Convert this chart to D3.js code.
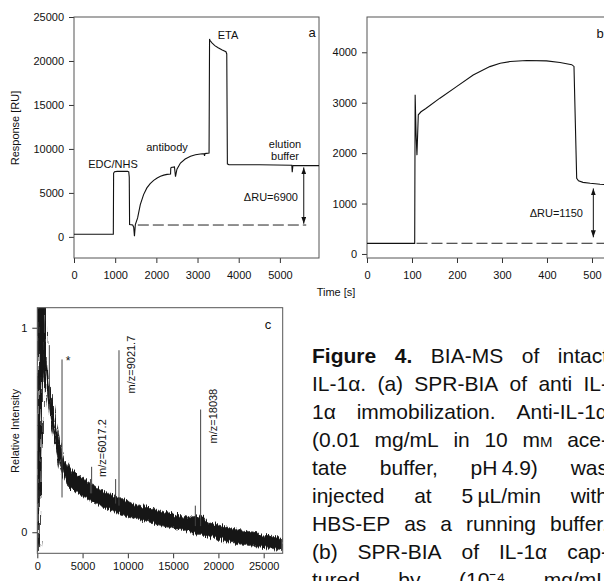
<!DOCTYPE html>
<html>
<head>
<meta charset="utf-8">
<script src="https://cdn.jsdelivr.net/npm/d3@7"></script>
<style>
  body { margin: 0; background: #fff; }
  svg { display: block; font-family: "Liberation Sans", Arial, Helvetica, sans-serif; }
</style>
</head>
<body>
<svg id="fig" width="604" height="581"></svg>
<script>
// ---- panel a: immobilization sensorgram
const aTime = [0, 955, 962, 985, 1050, 1300, 1330, 1342, 1350, 1425, 1450, 1468, 1490, 1545, 1610, 1690, 1770, 1850, 1935, 2020, 2100, 2180, 2260, 2345, 2350, 2360, 2440, 2450, 2465, 2500, 2585, 2700, 2830, 2950, 3070, 3160, 3170, 3180, 3280, 3292, 3300, 3350, 3420, 3500, 3600, 3690, 3710, 3725, 3760, 4500, 5290, 5300, 5315, 5330, 5950];
const aResp = [300, 300, 7250, 7400, 7450, 7450, 7380, 6800, 1400, 1350, 1100, 80, 1400, 2160, 3670, 4810, 5570, 6050, 6430, 6700, 6890, 7020, 7110, 7150, 7800, 7900, 7950, 7500, 6850, 7700, 8400, 8850, 9160, 9330, 9430, 9460, 9200, 9470, 9540, 22500, 22350, 22050, 21750, 21500, 21250, 21050, 20800, 8300, 8220, 8200, 8150, 7350, 8100, 8120, 8100];
const aXTicks = [0, 1000, 2000, 3000, 4000, 5000];
const aYTicks = [0, 5000, 10000, 15000, 20000, 25000];
const aBase = 1350, aBaseFrom = 1550, aBaseTo = 5640;
const aArrow = { t: 5580, from: 1500, to: 7900 };

// ---- panel b: capture sensorgram
const bTime = [0, 106, 107, 109, 111, 114, 120, 130, 162, 199, 236, 273, 296, 318, 355, 399, 429, 455, 460, 463, 466, 470, 480, 496, 518, 548];
const bResp = [210, 210, 3160, 2400, 1960, 2760, 2820, 2880, 3090, 3320, 3550, 3716, 3783, 3816, 3836, 3829, 3796, 3755, 3720, 2600, 1500, 1450, 1420, 1402, 1383, 1370];
const bXTicks = [0, 100, 200, 300, 400, 500];
const bYTicks = [0, 1000, 2000, 3000, 4000];
const bBase = 212, bBaseFrom = 110, bBaseTo = 548;
const bArrow = { t: 503, from: 330, to: 1300 };

// ---- panel c: MALDI spectrum (noise band edges + peaks)
const specMz = [0, 100, 200, 350, 500, 650, 800, 1000, 1200, 1400, 1600, 1800, 2000, 2250, 2500, 2750, 3000, 3500, 4000, 4500, 5000, 5500, 6000, 6500, 7000, 7500, 8000, 8500, 9000, 9500, 10000, 11000, 12000, 13000, 14000, 15000, 16000, 17000, 17600, 18200, 19000, 20000, 21000, 22000, 23000, 24000, 25000, 26000, 27100];
const specHi = [-0.02, 1.2, 1.2, 1.2, 1.2, 1.2, 1.2, 0.84, 0.76, 0.70, 0.65, 0.59, 0.54, 0.49, 0.44, 0.39, 0.36, 0.32, 0.30, 0.28, 0.265, 0.25, 0.235, 0.22, 0.21, 0.20, 0.19, 0.18, 0.17, 0.16, 0.15, 0.135, 0.125, 0.11, 0.10, 0.09, 0.08, 0.07, 0.075, 0.08, 0.045, 0.035, 0.025, 0.015, 0.005, 0.0, -0.015, -0.02, -0.025];
const specLo = [-0.09, -0.09, -0.05, 0.3, 0.55, 0.75, 0.80, 0.68, 0.62, 0.56, 0.51, 0.47, 0.42, 0.37, 0.32, 0.29, 0.26, 0.22, 0.20, 0.19, 0.18, 0.165, 0.15, 0.14, 0.13, 0.12, 0.11, 0.10, 0.09, 0.085, 0.075, 0.065, 0.055, 0.04, 0.03, 0.02, 0.01, 0.0, -0.01, -0.01, -0.025, -0.035, -0.045, -0.055, -0.06, -0.07, -0.075, -0.08, -0.085];
const peakMz   = [1330, 2730, 5870, 6000, 8650, 9022, 17450, 18038];
const peakTop  = [0.915, 0.845, 0.26, 0.32, 0.26, 0.89, 0.13, 0.6];
const peakBase = [0.65, 0.17, 0.19, 0.19, 0.14, 0.13, 0.03, 0.03];
const cXTicks = [0, 5000, 10000, 15000, 20000, 25000];
const cYTicks = [0, 1];

// ---- caption
const captionLines = [
  "Figure 4. BIA-MS of intact",
  "IL-1α. (a) SPR-BIA of anti IL-",
  "1α immobilization. Anti-IL-1α",
  "(0.01 mg/mL in 10 mM ace-",
  "tate buffer, pH\u20094.9) was",
  "injected at 5\u2009µL/min with",
  "HBS-EP as a running buffer.",
  "(b) SPR-BIA of IL-1α cap-",
  "tured by (10⁻⁴ mg/mL"
];

const svg = d3.select("#fig");
const defs = svg.append("defs");

defs.append("marker")
  .attr("id", "ah")
  .attr("viewBox", "0 0 10 10")
  .attr("refX", 10).attr("refY", 5)
  .attr("markerWidth", 7).attr("markerHeight", 5)
  .attr("markerUnits", "userSpaceOnUse")
  .attr("preserveAspectRatio", "none")
  .attr("orient", "auto-start-reverse")
  .append("path").attr("d", "M0,0L10,5L0,10Z").attr("fill", "#111");

const fuzz = defs.append("filter").attr("id", "fuzz")
  .attr("x", "-5%").attr("y", "-10%").attr("width", "110%").attr("height", "120%");
fuzz.append("feTurbulence").attr("type", "fractalNoise").attr("baseFrequency", "1.1 0.04")
  .attr("numOctaves", 2).attr("seed", 4).attr("result", "n");
fuzz.append("feDisplacementMap").attr("in", "SourceGraphic").attr("in2", "n")
  .attr("scale", 9).attr("xChannelSelector", "A").attr("yChannelSelector", "G");

function drawAxes(g, x, y, xt, yt, xPad) {
  const [x0, x1] = x.range();
  const [yb, ytop] = y.range();
  const ax = g.append("g").attr("transform", `translate(0,${yb})`)
    .call(d3.axisBottom(x).tickValues(xt).tickFormat(d3.format("d")).tickSize(5).tickPadding(xPad));
  const ay = g.append("g").attr("transform", `translate(${x0},0)`)
    .call(d3.axisLeft(y).tickValues(yt).tickFormat(d3.format("d")).tickSize(5).tickPadding(5));
  [ax, ay].forEach(s => {
    s.attr("font-size", 11).attr("font-family", null);
    s.select(".domain").remove();
    s.selectAll(".tick line").attr("stroke", "#333");
    s.selectAll(".tick text").attr("fill", "#111");
  });
  g.append("rect").attr("x", x0).attr("y", ytop)
    .attr("width", x1 - x0).attr("height", yb - ytop)
    .attr("fill", "none").attr("stroke", "#555");
}

function clip(id, x, y) {
  const [x0, x1] = x.range();
  const [yb, ytop] = y.range();
  defs.append("clipPath").attr("id", id).append("rect")
    .attr("x", x0).attr("y", ytop).attr("width", x1 - x0).attr("height", yb - ytop);
}

function label(g, x, y, txt, size, anchor) {
  return g.append("text").attr("x", x).attr("y", y)
    .attr("font-size", size || 11).attr("text-anchor", anchor || "middle")
    .attr("fill", "#111").text(txt);
}

// ======== panel a
const xa = d3.scaleLinear().domain([0, 5950]).range([74, 319]);
const ya = d3.scaleLinear().domain([-2400, 25000]).range([258, 17]);
const ga = svg.append("g");
clip("clipA", xa, ya);
drawAxes(ga, xa, ya, aXTicks, aYTicks, 8.5);

ga.append("path")
  .datum(aTime.map((t, i) => [t, aResp[i]]))
  .attr("clip-path", "url(#clipA)")
  .attr("d", d3.line().x(d => xa(d[0])).y(d => ya(d[1])))
  .attr("fill", "none").attr("stroke", "#111").attr("stroke-width", 1.1);

ga.append("line")
  .attr("x1", xa(aBaseFrom)).attr("x2", xa(aBaseTo))
  .attr("y1", ya(aBase)).attr("y2", ya(aBase))
  .attr("stroke", "#222").attr("stroke-dasharray", "11,4");

ga.append("line")
  .attr("x1", xa(aArrow.t)).attr("x2", xa(aArrow.t))
  .attr("y1", ya(aArrow.from)).attr("y2", ya(aArrow.to))
  .attr("stroke", "#111").attr("stroke-width", 1)
  .attr("marker-start", "url(#ah)").attr("marker-end", "url(#ah)");

label(ga, 113, 168, "EDC/NHS");
label(ga, 167, 151, "antibody");
label(ga, 228, 38.5, "ETA");
label(ga, 285, 148, "elution");
label(ga, 285, 159.5, "buffer");
label(ga, 298, 200.5, "ΔRU=6900", 11, "end");
label(ga, 312, 37, "a", 13);
ga.append("text")
  .attr("transform", "translate(19,128) rotate(-90)")
  .attr("text-anchor", "middle").attr("font-size", 11).attr("fill", "#111")
  .text("Response [RU]");

// ======== panel b
const xb = d3.scaleLinear().domain([0, 546.7]).range([367, 613]);
const yb = d3.scaleLinear().domain([-80, 4700]).range([258, 17]);
const gb = svg.append("g");
clip("clipB", xb, yb);
drawAxes(gb, xb, yb, bXTicks, bYTicks, 8.5);

gb.append("path")
  .datum(bTime.map((t, i) => [t, bResp[i]]))
  .attr("clip-path", "url(#clipB)")
  .attr("d", d3.line().x(d => xb(d[0])).y(d => yb(d[1])))
  .attr("fill", "none").attr("stroke", "#111").attr("stroke-width", 1.1);

gb.append("line")
  .attr("x1", xb(bBaseFrom)).attr("x2", xb(bBaseTo))
  .attr("y1", yb(bBase)).attr("y2", yb(bBase))
  .attr("stroke", "#222").attr("stroke-dasharray", "11,4");

gb.append("line")
  .attr("x1", xb(bArrow.t)).attr("x2", xb(bArrow.t))
  .attr("y1", yb(bArrow.from)).attr("y2", yb(bArrow.to))
  .attr("stroke", "#111").attr("stroke-width", 1)
  .attr("marker-start", "url(#ah)").attr("marker-end", "url(#ah)");

label(gb, 583, 217, "ΔRU=1150", 11, "end");
label(gb, 600, 37.5, "b", 13);
label(gb, 336, 296, "Time [s]");

// ======== panel c
const xc = d3.scaleLinear().domain([0, 27100]).range([37.3, 282.7]);
const yc = d3.scaleLinear().domain([-0.103, 1.098]).range([553.3, 307.7]);
const gc = svg.append("g");
clip("clipC", xc, yc);

const band = d3.area()
  .x(d => xc(d[0])).y0(d => yc(d[1])).y1(d => yc(d[2]));
gc.append("g").attr("clip-path", "url(#clipC)")
  .append("path")
  .datum(specMz.map((m, i) => [m, specLo[i], specHi[i]]))
  .attr("d", band)
  .attr("fill", "#161616").attr("stroke", "#333").attr("stroke-width", 0.8)
  .attr("filter", "url(#fuzz)");

gc.append("g").attr("clip-path", "url(#clipC)")
  .selectAll("line.peak")
  .data(peakMz.map((m, i) => ({ m, top: peakTop[i], base: peakBase[i] })))
  .join("line").attr("class", "peak")
  .attr("x1", d => xc(d.m)).attr("x2", d => xc(d.m))
  .attr("y1", d => yc(d.base)).attr("y2", d => yc(d.top))
  .attr("stroke", "#444").attr("stroke-width", 1);

drawAxes(gc, xc, yc, cXTicks, cYTicks, 3.5);

label(gc, 68, 365, "*", 12);
gc.append("text").attr("transform", "translate(106,477) rotate(-90)")
  .attr("font-size", 11).attr("fill", "#111").text("m/z=6017.2");
gc.append("text").attr("transform", "translate(134.5,393.5) rotate(-90)")
  .attr("font-size", 11).attr("fill", "#111").text("m/z=9021.7");
gc.append("text").attr("transform", "translate(216.5,443.5) rotate(-90)")
  .attr("font-size", 11).attr("fill", "#111").text("m/z=18038");
label(gc, 268, 329, "c", 13);
label(gc, 158, 589, "m/z");
gc.append("text")
  .attr("transform", "translate(19,431) rotate(-90)")
  .attr("text-anchor", "middle").attr("font-size", 11).attr("fill", "#111")
  .text("Relative Intensity");

// ======== caption, justified word by word
const capLeft = 312, capRight = 608, capTop = 363, capLead = 28;
const cap = svg.append("g").attr("font-size", 21).attr("fill", "#111");
captionLines.forEach((line, li) => {
  const words = line.split(" ");
  const y = capTop + li * capLead;
  const nodes = words.map((w, wi) => {
    const t = cap.append("text").attr("y", y);
    if (li === 0 && wi < 2) t.attr("font-weight", "bold");
    if (w === "mM") {
      t.append("tspan").text("m");
      t.append("tspan").attr("font-size", 15).text("M");
    } else {
      t.text(w);
    }
    return t;
  });
  const widths = nodes.map(t => t.node().getComputedTextLength());
  const gap = words.length > 1 ? (capRight - capLeft - d3.sum(widths)) / (words.length - 1) : 0;
  let x = capLeft;
  nodes.forEach((t, i) => { t.attr("x", x); x += widths[i] + gap; });
});
</script>
</body>
</html>
